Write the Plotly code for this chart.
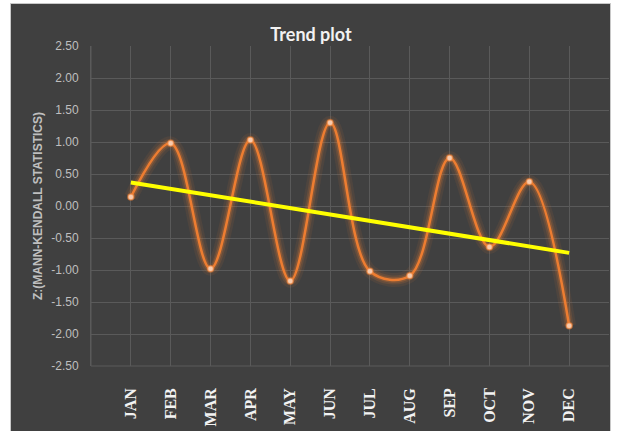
import numpy as np
import plotly.graph_objects as go

months = ["JAN", "FEB", "MAR", "APR", "MAY", "JUN", "JUL", "AUG", "SEP", "OCT", "NOV", "DEC"]
month_pos = [1, 2, 3, 4, 5, 6, 7, 8, 9, 10, 11, 12]
z_values = [0.14, 0.98, -0.98, 1.03, -1.17, 1.30, -1.02, -1.09, 0.75, -0.64, 0.38, -1.87]
y_ticks = [2.5, 2.0, 1.5, 1.0, 0.5, 0.0, -0.5, -1.0, -1.5, -2.0, -2.5]

slope, intercept = np.polyfit(month_pos, z_values, 1)
trend_x = [month_pos[0], month_pos[-1]]
trend_y = [intercept + slope * x for x in trend_x]

W, H = 617, 431
L, R, T, B = 91, W - 609, 46, H - 366
pw, ph = W - L - R, H - T - B

fig = go.Figure()
# glow layers
for w, a in [(14, 0.08), (9, 0.14), (5.5, 0.25)]:
    fig.add_trace(go.Scatter(x=month_pos, y=z_values, mode="lines",
                             line=dict(color=f"rgba(237,125,49,{a})", width=w, shape="spline", smoothing=1),
                             hoverinfo="skip", showlegend=False))
fig.add_trace(go.Scatter(x=month_pos, y=z_values, mode="lines+markers",
                         line=dict(color="#ED7D31", width=2.5, shape="spline", smoothing=1),
                         marker=dict(size=6, color="#F8CBAD", line=dict(color="rgba(237,125,49,0.6)", width=1.5)),
                         showlegend=False))
fig.add_trace(go.Scatter(x=trend_x, y=trend_y, mode="lines",
                         line=dict(color="#FFFF00", width=4), showlegend=False))

# dark chart area background with light border
fig.add_shape(type="rect", xref="paper", yref="paper",
              x0=(10.5 - L) / pw, x1=(610.5 - L) / pw,
              y0=(T + ph - 432) / ph, y1=(T + ph - 3.5) / ph,
              fillcolor="#404040", line=dict(color="#C8C8C8", width=1), layer="below")

fig.update_layout(
    width=W, height=H,
    margin=dict(l=L, r=R, t=T, b=B, autoexpand=False),
    paper_bgcolor="white", plot_bgcolor="#404040",
    title=dict(text="<b>Trend plot</b>", x=(311 - L) / pw, xref="paper", xanchor="center",
               y=1 - 35 / H, yanchor="middle",
               font=dict(family="Lato, sans-serif", size=18, color="#F2F2F2")),
    xaxis=dict(range=[0, 13], tickmode="array", tickvals=month_pos, ticktext=[f"<b>{m}</b>" for m in months],
               tickangle=-90, showgrid=True, gridcolor="#5A5A5A", gridwidth=1, zeroline=False,
               showline=False, ticks="", ticklabelstandoff=18, automargin=False,
               tickfont=dict(family="Liberation Serif, Times New Roman, serif", size=16, color="#F2F2F2")),
    yaxis=dict(range=[-2.5, 2.5], tickmode="array", tickvals=y_ticks, ticktext=[f"{v:.2f}" for v in y_ticks],
               showgrid=True, gridcolor="#5A5A5A", gridwidth=1, zeroline=False, showline=True,
               linecolor="#5A5A5A", ticks="", ticklabelstandoff=9, automargin=False,
               tickfont=dict(family="Liberation Sans Narrow, Arial Narrow, sans-serif", size=12, color="#BFBFBF"),
               title=dict(text="<b>Z:(MANN-KENDALL STATISTICS)</b>", standoff=6,
                          font=dict(family="Liberation Sans, Arial, sans-serif", size=12, color="#BFBFBF"))),
)
fig.add_shape(type="line", xref="paper", yref="paper", x0=0, x1=1, y0=0, y1=0,
              line=dict(color="#5A5A5A", width=1))
fig.add_shape(type="line", xref="x", yref="paper", x0=0, x1=0, y0=0, y1=1,
              line=dict(color="#5A5A5A", width=1), layer="between")

fig.write_html("out.html", config={"displayModeBar": False},
               post_script="document.body.style.margin='0';")
